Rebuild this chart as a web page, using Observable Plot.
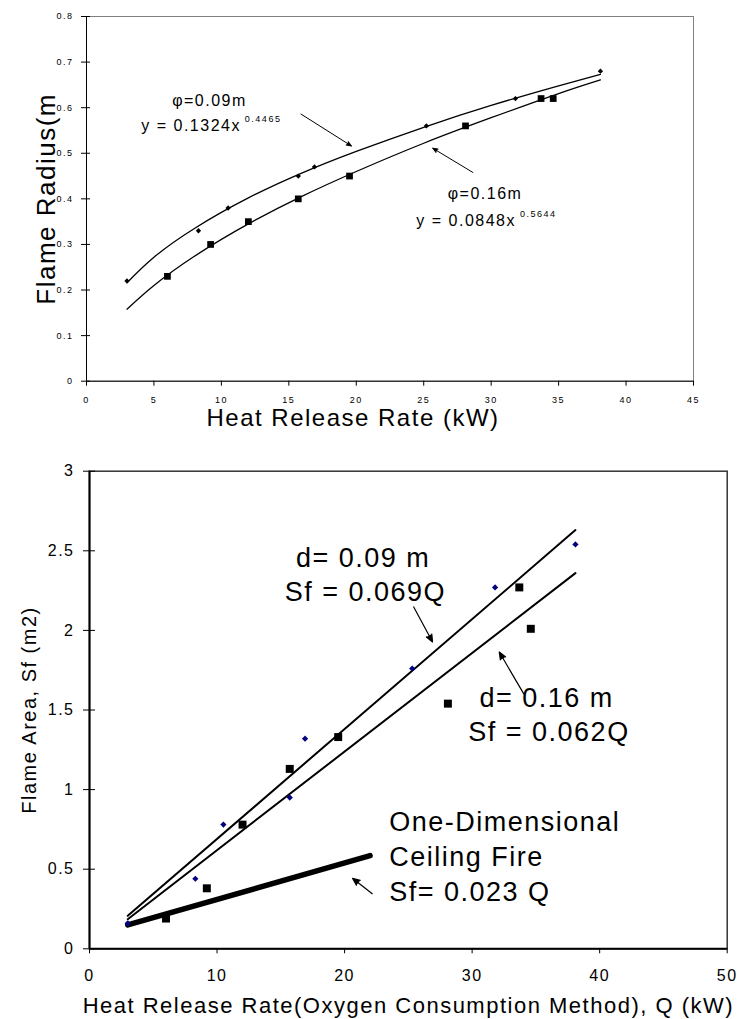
<!DOCTYPE html>
<html><head><meta charset="utf-8">
<script src="https://cdn.jsdelivr.net/npm/d3@7"></script>
<script src="https://cdn.jsdelivr.net/npm/@observablehq/plot@0.6"></script>
<style>body{margin:0;background:#fff;} #c{width:737px;} svg{display:block}</style>
</head><body><div id="c"></div><script>
// ---------- Top chart: flame radius ----------
const hrr09 = [3, 8.3, 10.5, 15.7, 16.9, 25.2, 31.8, 38.1];
const radius09 = [0.22, 0.33, 0.38, 0.45, 0.47, 0.56, 0.62, 0.68];
const hrr16 = [6, 9.2, 12, 15.7, 19.5, 28.1, 33.7, 34.6];
const radius16 = [0.23, 0.30, 0.35, 0.40, 0.45, 0.56, 0.62, 0.62];
const fitX = [3, 5, 8, 12, 16, 20, 25, 30, 35, 38.1];
const fit09 = [0.216, 0.272, 0.335, 0.402, 0.457, 0.504, 0.557, 0.605, 0.648, 0.673];
const fit16 = [0.158, 0.210, 0.274, 0.345, 0.406, 0.460, 0.522, 0.578, 0.631, 0.661];
const topXTicks = [0, 5, 10, 15, 20, 25, 30, 35, 40, 45];
const topYTicks = [0, 0.1, 0.2, 0.3, 0.4, 0.5, 0.6, 0.7, 0.8];
const topLabelText = ["φ=0.09m", "y = 0.1324x", "φ=0.16m", "y = 0.0848x"];
const topLabelX = [6.35, 4.06, 26.78, 24.45];
const topLabelY = [0.615, 0.560, 0.411, 0.352];
const topSupText = ["0.4465", "0.5644"];
const topSupX = [11.74, 32.13];
const topSupY = [0.574, 0.366];
const topArrowX1 = [15.9, 28.64], topArrowY1 = [0.586, 0.458];
const topArrowX2 = [19.64, 25.67], topArrowY2 = [0.516, 0.511];
const topXTitle = "Heat Release Rate (kW)";
const topYTitle = "Flame Radius(m";

// ---------- Bottom chart: flame area ----------
const area09Q = [3, 8.3, 10.5, 15.7, 16.9, 25.3, 31.8, 38.1];
const area09 = [0.16, 0.44, 0.78, 0.95, 1.32, 1.76, 2.27, 2.54];
const area16Q = [6, 9.2, 12, 15.7, 19.5, 28.1, 33.7, 34.6];
const area16 = [0.19, 0.38, 0.78, 1.13, 1.33, 1.54, 2.27, 2.01];
const lineQ = [3, 38.1];
const line09 = [0.207, 2.63];
const line16 = [0.186, 2.36];
const ceilingQ = [3, 22];
const ceilingSf = [0.15, 0.585];
const botXTicks = [0, 10, 20, 30, 40, 50];
const botYTicks = [0, 0.5, 1, 1.5, 2, 2.5, 3];
const botLabelText = ["d= 0.09 m", "Sf = 0.069Q", "d= 0.16 m", "Sf = 0.062Q", "One-Dimensional", "Ceiling Fire", "Sf= 0.023 Q"];
const botLabelX = [16.19, 15.3, 30.58, 29.7, 23.5, 23.5, 23.5];
const botLabelY = [2.454, 2.24, 1.573, 1.357, 0.792, 0.572, 0.354];
const botArrowX1 = [25.42, 34.05, 22.17], botArrowY1 = [2.147, 1.601, 0.346];
const botArrowX2 = [26.9, 32.13, 20.62], botArrowY2 = [1.927, 1.864, 0.443];
const botXTitle = "Heat Release Rate(Oxygen Consumption Method), Q (kW)";
const botYTitle = "Flame Area, Sf (m2)";

const FONT = "'Liberation Sans', Arial, Helvetica, sans-serif";
const idx = a => a.map((_, i) => i);
function spacing(svg, label, ls) {
  svg.querySelectorAll(`g[aria-label="${label}"] text`).forEach(t => { t.style.letterSpacing = ls + "px"; });
}
function fillArrows(svg) {
  svg.querySelectorAll(`g[aria-label="arrow"] path`).forEach(p => { p.style.fill = "#000"; });
}

const topChart = Plot.plot({
  width: 737, height: 440,
  marginLeft: 86, marginRight: 44, marginTop: 16, marginBottom: 59.3,
  style: {fontFamily: FONT, background: "#fff", overflow: "visible"},
  x: {domain: [0, 45]},
  y: {domain: [0, 0.8]},
  marks: [
    Plot.frame({stroke: "#808080"}),
    Plot.axisY(topYTicks, {tickSize: 9, dx: 4, tickPadding: 8, fontSize: 9, label: null, tickFormat: d => String(d)}),
    Plot.axisX(topXTicks, {tickSize: 5, tickPadding: 10, fontSize: 9, label: null, tickFormat: d => String(d)}),
    Plot.ruleX([0], {stroke: "#000"}),
    Plot.ruleY([0], {stroke: "#000"}),
    Plot.line(idx(fitX), {x: i => fitX[i], y: i => fit09[i], curve: "natural", stroke: "#000", strokeWidth: 1.3}),
    Plot.line(idx(fitX), {x: i => fitX[i], y: i => fit16[i], curve: "natural", stroke: "#000", strokeWidth: 1.3}),
    Plot.dot(idx(hrr09), {x: i => hrr09[i], y: i => radius09[i], symbol: "diamond2", r: 2.4, fill: "#000"}),
    Plot.dot(idx(hrr16), {x: i => hrr16[i], y: i => radius16[i], symbol: "square", r: 3.8, fill: "#000"}),
    Plot.arrow(idx(topArrowX1), {x1: i => topArrowX1[i], y1: i => topArrowY1[i], x2: i => topArrowX2[i], y2: i => topArrowY2[i], stroke: "#000", strokeWidth: 1, headLength: 8, headAngle: 45}),
    Plot.text(idx(topLabelText), {x: i => topLabelX[i], y: i => topLabelY[i], text: i => topLabelText[i], textAnchor: "start", lineAnchor: "middle", fontSize: 16, fill: "#000", ariaLabel: "ann"}),
    Plot.text(idx(topSupText), {x: i => topSupX[i], y: i => topSupY[i], text: i => topSupText[i], textAnchor: "start", lineAnchor: "middle", fontSize: 9, fill: "#000", ariaLabel: "sup"}),
    Plot.text([topXTitle], {frameAnchor: "bottom", dx: -37, dy: 37, lineAnchor: "middle", fontSize: 24, fill: "#000", ariaLabel: "xtitle"}),
    Plot.text([topYTitle], {frameAnchor: "left", dx: -40, rotate: -90, textAnchor: "middle", lineAnchor: "middle", fontSize: 26, fill: "#000", ariaLabel: "ytitle"})
  ]
});
topChart.style.letterSpacing = "1.5px";
spacing(topChart, "x-axis tick label", 1.5);
spacing(topChart, "y-axis tick label", 1.5);
spacing(topChart, "ann", 2);
spacing(topChart, "sup", 1.2);
spacing(topChart, "xtitle", 1.8);
spacing(topChart, "ytitle", 0);
fillArrows(topChart);

const botChart = Plot.plot({
  width: 737, height: 579,
  marginLeft: 89, marginRight: 10.3, marginTop: 30.7, marginBottom: 70.7,
  style: {fontFamily: FONT, background: "#fff", overflow: "visible"},
  x: {domain: [0, 50]},
  y: {domain: [0, 3]},
  marks: [
    Plot.frame({stroke: "#333", strokeWidth: 1.5}),
    Plot.axisY(botYTicks, {tickSize: 12, dx: 6, tickPadding: 9, fontSize: 16, label: null, tickFormat: d => String(d)}),
    Plot.axisX(botXTicks, {tickSize: 5, tickPadding: 16, fontSize: 16, label: null, tickFormat: d => String(d)}),
    Plot.ruleX([0], {stroke: "#000", strokeWidth: 2}),
    Plot.ruleY([0], {stroke: "#000", strokeWidth: 2}),
    Plot.line(idx(lineQ), {x: i => lineQ[i], y: i => line09[i], stroke: "#000", strokeWidth: 2}),
    Plot.line(idx(lineQ), {x: i => lineQ[i], y: i => line16[i], stroke: "#000", strokeWidth: 2}),
    Plot.line(idx(ceilingQ), {x: i => ceilingQ[i], y: i => ceilingSf[i], stroke: "#000", strokeWidth: 5.5}),
    Plot.dot(idx(area09Q), {x: i => area09Q[i], y: i => area09[i], symbol: "diamond2", r: 2.8, fill: "#000080"}),
    Plot.dot(idx(area16Q), {x: i => area16Q[i], y: i => area16[i], symbol: "square", r: 4.5, fill: "#000"}),
    Plot.arrow(idx(botArrowX1), {x1: i => botArrowX1[i], y1: i => botArrowY1[i], x2: i => botArrowX2[i], y2: i => botArrowY2[i], stroke: "#000", strokeWidth: 1.2, headLength: 10, headAngle: 45}),
    Plot.text(idx(botLabelText), {x: i => botLabelX[i], y: i => botLabelY[i], text: i => botLabelText[i], textAnchor: "start", lineAnchor: "middle", fontSize: 27, fill: "#000", ariaLabel: "ann"}),
    Plot.text([botXTitle], {frameAnchor: "bottom", dy: 64, lineAnchor: "bottom", fontSize: 22, fill: "#000", ariaLabel: "xtitle"}),
    Plot.text([botYTitle], {frameAnchor: "left", dx: -60, rotate: -90, textAnchor: "middle", lineAnchor: "middle", fontSize: 20, fill: "#000", ariaLabel: "ytitle"})
  ]
});
botChart.style.letterSpacing = "1.5px";
spacing(botChart, "x-axis tick label", 1.5);
spacing(botChart, "y-axis tick label", 1.5);
spacing(botChart, "ann", 2.5);
spacing(botChart, "xtitle", 1.2);
spacing(botChart, "ytitle", 1.1);
fillArrows(botChart);

const c = document.getElementById("c");
c.appendChild(topChart);
c.appendChild(botChart);
</script></body></html>
